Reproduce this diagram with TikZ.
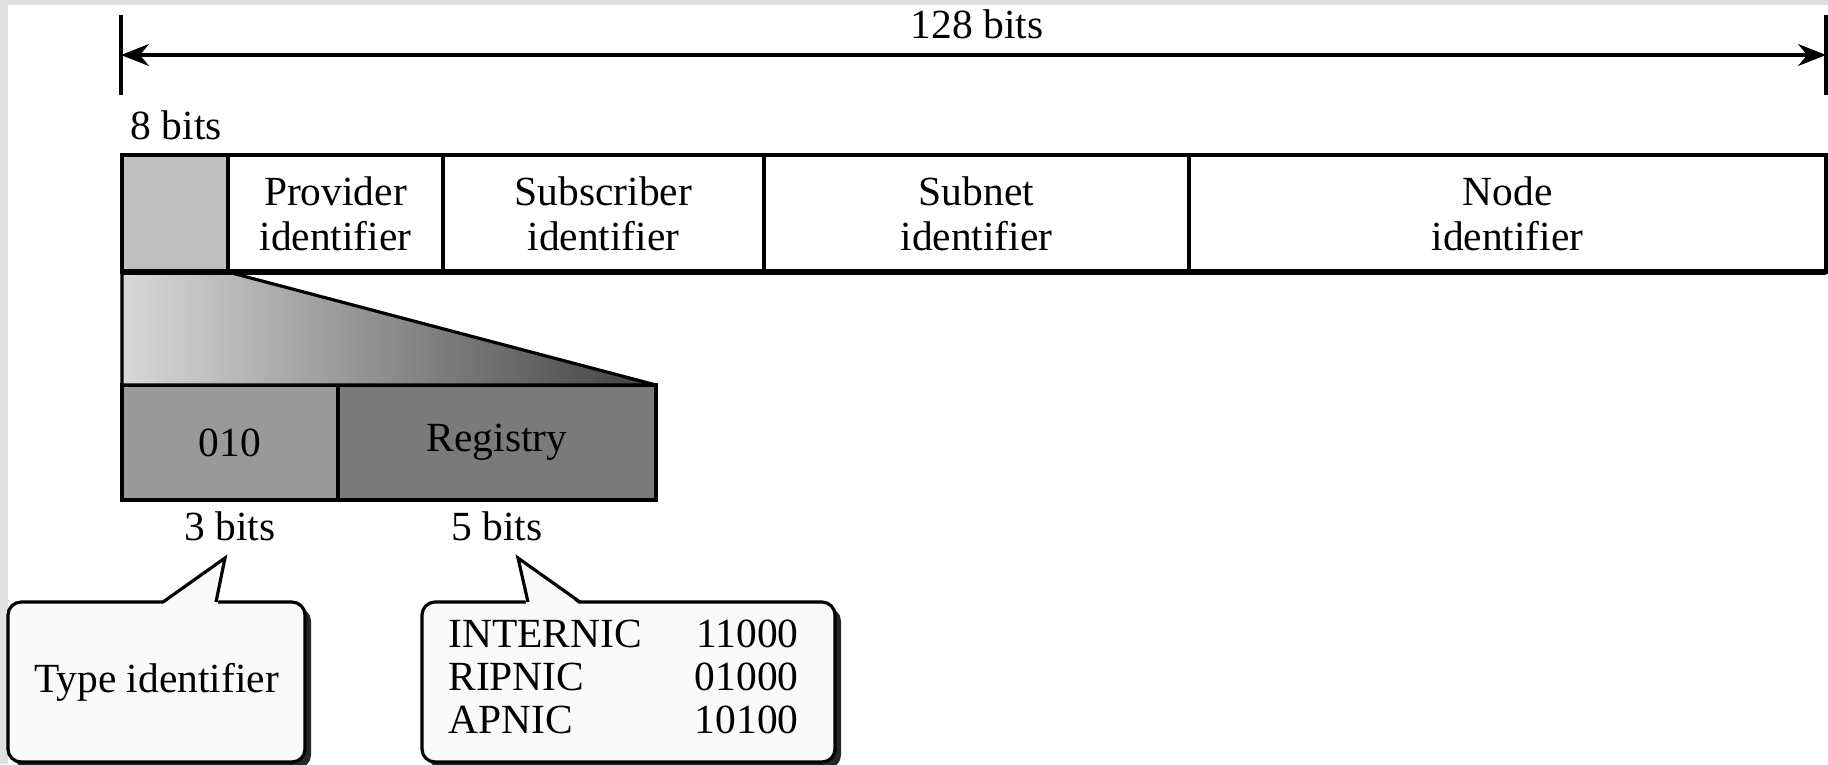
\documentclass[tikz,border=0pt]{standalone}
\usepackage{fontspec}
\setmainfont{Liberation Serif}
\usetikzlibrary{arrows.meta,shadows}

\tikzset{
  field/.style={draw, line width=0.9pt, inner sep=0pt, outer sep=0pt, align=center},
  bubble/.style={draw, line width=0.9pt, rounded corners=1.3mm, fill=gray!4, inner sep=0pt,
    outer sep=0pt, minimum height=16mm,
    drop shadow={shadow xshift=0.6mm, shadow yshift=-0.6mm, opacity=1, fill=black!85}},
  bits/.style={inner sep=0pt, anchor=base},
}

\begin{document}
\begin{tikzpicture}[x=0.1mm, y=-0.1mm, font=\fontsize{11.8}{12.8}\selectfont]
  \useasboundingbox (0,0) rectangle (1828,764);
  \fill[gray!25] (0,0) rectangle (1828,764);
  \fill[white] (8,5) rectangle (1828,764);

  % total length
  \coordinate (endL) at (121,55);
  \coordinate (endR) at (1826,55);
  \draw[line width=0.9pt] ([yshift=4mm]endL) -- ([yshift=-4mm]endL);
  \draw[line width=0.9pt] ([yshift=4mm]endR) -- ([yshift=-4mm]endR);
  \draw[<->, >={Stealth[length=2.8mm, width=2.2mm]}, line width=0.9pt] (endL) -- (endR);
  \node[bits] (len) at (977,38) {128 bits};
  \node[bits, anchor=base west] (eight) at (130,139) {8 bits};

  % address fields
  \node[field, fill=gray!50, minimum width=10.6mm, minimum height=11.7mm] (type) at (175,213.5) {};
  \foreach \name/\xa/\xb/\txt in {prov/228/443/Provider, subs/443/764/Subscriber,
                                  subn/764/1189/Subnet, host/1189/1826/Node}
    \node[field, minimum width={(\xb-\xa)*0.1mm}, minimum height=11.7mm]
      (\name) at ({(\xa+\xb)/2},213.5) {\txt\\identifier};

  % expanded prefix
  \node[field, fill=gray!80, minimum width=21.6mm, minimum height=11.5mm] (code) at (230,442.5) {010};
  \node[field, fill=black!52, minimum width=31.8mm, minimum height=11.5mm] (reg) at (497,442.5) {Registry};
  \shadedraw[left color=gray!30, right color=black!75, line width=0.9pt, line join=bevel]
    (type.south west) -- (type.south east) -- (reg.north east) -- (code.north west) -- cycle;
  \draw[line width=1.6pt] (type.south west) -- (host.south east);
  \draw[line width=1.4pt] (code.south west) -- (reg.south east);
  \node[bits] (three) at (230,540) {3 bits};
  \node[bits] (five) at (497,540) {5 bits};

  % callouts
  \node[bubble, minimum width=29.7mm] (typebox) at (156.5,682) {Type identifier};
  \node[bubble, minimum width=41.3mm, font=\fontsize{11.8}{12.3}\selectfont] (regbox) at (628.5,682)
    {\begin{tabular}{@{}l@{\hspace{5.3mm}}r@{\hspace{1mm}}}
       INTERNIC & 11000\\
       RIPNIC   & 01000\\
       APNIC    & 10100
     \end{tabular}};
  \coordinate (tipA) at (225,558);
  \coordinate (tipB) at (518,558);
  \fill[gray!4] ([xshift=0.4mm, yshift=-0.4mm]typebox.north) -- (tipA)
    -- ([xshift=6.1mm, yshift=-0.4mm]typebox.north) -- cycle;
  \draw[line width=0.9pt] ([xshift=0.65mm]typebox.north) -- (tipA) -- ([xshift=5.95mm]typebox.north);
  \fill[gray!4] ([xshift=-10.2mm, yshift=-0.4mm]regbox.north) -- (tipB)
    -- ([xshift=-4.7mm, yshift=-0.4mm]regbox.north) -- cycle;
  \draw[line width=0.9pt] ([xshift=-10.05mm]regbox.north) -- (tipB) -- ([xshift=-4.85mm]regbox.north);
\end{tikzpicture}
\end{document}
